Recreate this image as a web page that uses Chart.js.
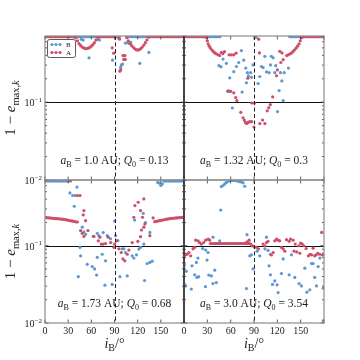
<!DOCTYPE html>
<html>
<head>
<meta charset="utf-8">
<script src="https://cdn.jsdelivr.net/npm/chart.js@4.4.1/dist/chart.umd.min.js"></script>
<style>
    body { margin: 0; background: #fff; }
    #wrap { position: relative; width: 360px; height: 360px; }
    #wrap canvas { position: absolute; left: 0; top: 0; }
</style>
</head>
<body>
<div id="wrap">
    <canvas id="p0" width="360" height="360"></canvas>
    <canvas id="p1" width="360" height="360"></canvas>
    <canvas id="p2" width="360" height="360"></canvas>
    <canvas id="p3" width="360" height="360"></canvas>
</div>
<script>
// --- data: [i_B (deg), 1 - e_max,k] ---
const aBValues = ['1.0', '1.32', '1.73', '3.0'];
const Q0Values = ['0.13', '0.3', '0.68', '3.54'];

const xTicks = [0, 30, 60, 90, 120, 150, 180];
const xTickLabels = [0, 30, 60, 90, 120, 150];
const yMajor = [0.01, 0.1];
const yMinor = [0.02, 0.03, 0.04, 0.05, 0.06, 0.07, 0.08, 0.09, 0.2, 0.3, 0.4, 0.5, 0.6, 0.7];
const yTickLabels = ['−2', '−1'];
const hLine = 0.1;
const vLine = 90;

// a_B = 1.0 AU
const p0_A = [[0,.695],[2,.695],[4,.695],[6,.695],[8,.695],[10,.695],[12,.695],[14,.695],[16,.695],[18,.695],
    [20,.695],[22,.695],[24,.695],[26,.695],[28,.695],[30,.695],[32,.695],[34,.695],[36,.695],[38,.69],
    [40,.676],[42,.617],[44,.569],[46,.537],[48,.513],[50,.501],[52,.49],[54,.49],[56,.495],[58,.507],
    [60,.525],[62,.55],[64,.582],[66,.631],[68,.684],
    [70,.695],[72,.695],[74,.695],[76,.695],[78,.695],[80,.695],[82,.695],[84,.695],[86,.695],[88,.695],
    [87,.501],[89,.427],[95,.676],[96.5,.646],[97,.251],[98,.263],[101,.398],[102,.355],[103.5,.398],[104,.355],
    [106,.676],[108,.617],[110,.569],[112,.537],[114,.513],[116,.49],[118,.473],[120,.468],[122,.473],[124,.49],
    [126,.513],[128,.543],[130,.582],[132,.631],[134,.684],
    [136,.695],[138,.695],[140,.695],[142,.695],[144,.695],[146,.695],[148,.695],[150,.695],[152,.695],[154,.695],
    [156,.695],[158,.695],[160,.695],[162,.695],[164,.695],[166,.695],[168,.695],[170,.695],[172,.695],[174,.695],
    [176,.695],[178,.695],[180,.695]];
const p0_B = [[42,.695],[44,.695],[46,.695],[48,.695],[50,.695],[52,.695],[54,.695],[56,.695],[58,.695],[60,.695],
    [62,.695],[64,.695],[66,.695],[68,.695],[91,.69],
    [106,.695],[108,.695],[110,.695],[112,.695],[114,.695],[116,.695],[118,.695],[120,.695],[122,.695],[124,.695],
    [126,.695],[128,.695],[130,.695],[132,.695],[134,.695],
    [47,.646],[49.5,.631],[57,.372],[69,.646],[70.5,.631],[87.5,.347],[96.5,.676],[98,.282],[99,.302],[100.5,.31],
    [102,.398],[104,.575],[106.5,.582],[109,.569],[111,.589],[122.7,.316],[134.5,.437]];

// a_B = 1.32 AU
const p1_A = [[0,.695],[2,.695],[4,.695],[6,.695],[8,.695],[10,.695],[12,.695],[14,.695],[16,.695],[18,.695],
    [20,.695],[22,.695],[24,.695],[26,.695],[28,.695],
    [29,.676],[30,.617],[31,.562],[32.5,.525],[34,.495],[36,.468],[38,.447],[40,.427],[42,.417],[44,.407],[46,.398],
    [48,.437],[50,.422],[52,.447],[58,.407],[61,.407],[64,.407],[67,.427],
    [57,.14],[60,.138],[64,.132],[66.5,.115],[68,.105],[73,.0741],[76,.0631],[77.5,.0589],[79,.055],[80.5,.0531],
    [82.5,.055],[84.5,.0562],[87,.0562],[90,.0479],[87,.0977],[90.5,.0977],[82,.204],[96,.646],[97,.43],
    [97.5,.0531],[101,.0589],[104,.0531],[107,.0776],[109,.0851],[111,.0933],[114,.117],[119,.219],[120,.26],
    [124.5,.324],[127.5,.352],[123,.452],[126,.43],
    [132,.398],[134,.407],[136,.417],[138,.427],[140,.447],[142,.468],[144,.495],[146,.525],[148,.562],[149.5,.617],
    [151,.676],[152,.695],[154,.695],[156,.695],[158,.695],[160,.695],[162,.695],[164,.695],[166,.695],[168,.695],
    [170,.695],[172,.695],[174,.695],[176,.695],[178,.695],[180,.695]];
const p1_B = [[26,.695],[28,.695],[30,.695],[32,.695],[34,.695],[36,.695],[38,.695],[40,.695],[42,.695],[44,.695],[46,.695],
    [136,.695],[138,.695],[140,.695],[142,.695],[144,.695],[146,.695],[148,.695],[150,.695],[152,.695],[154,.695],
    [45,.295],[47.6,.285],[50.2,.359],[54.5,.316],[58.8,.206],[56,.138],[58,.138],[64,.247],[67.4,.288],[70.4,.324],
    [73.8,.461],[76.8,.347],[79.4,.275],[81.5,.24],[82.8,.219],[85.8,.24],[86.7,.209],[80.3,.178],[88.8,.302],
    [62.2,.0843],[74.7,.135],[95.3,.174],[97.4,.214],[99.6,.288],[101.7,.279],[103.9,.389],[106,.245],[109.4,.24],
    [111.2,.302],[112.4,.389],[114.6,.372],[116.7,.24],[118,.295],[124,.24],[125.8,.188],[128.8,.24],[134.3,.275],
    [127.5,.105],[120.2,.0759],[122.3,.141],[92.7,.68]];

// a_B = 1.73 AU
const p2_A = [[0,.232],[2,.231],[4,.23],[6,.229],[8,.228],[10,.227],[12,.226],[14,.225],[16,.224],[18,.223],
    [20,.222],[22,.221],[24,.219],[26,.218],[28,.216],[30,.214],[32,.212],[34,.21],[36,.208],[38,.206],[40,.204],[42,.203],
    [33,.69],[41.8,.447],[45.3,.447],[50.4,.285],[49.6,.251],[52.6,.211],[46.1,.157],[48.3,.145],[50.4,.132],[55.6,.157],
    [63.4,.132],[69,.116],[71.1,.129],[72.8,.105],[75.4,.105],[78.4,.107],[81.9,.129],[84.9,.11],[89.2,.0955],[90,.105],
    [92.7,.116],[95.7,.0912],[98.7,.0818],[100.9,.0676],[103.4,.0638],[106.5,.0776],[108.6,.0879],[112.9,.11],
    [120.3,.114],[123.7,.131],[125,.16],[129.3,.191],[128,.174],[115,.234],[116.4,.331],[120.7,.366],[123.7,.285],
    [128,.404],[126.3,.234],[135.8,.135],
    [140,.229],[142,.205],[144,.207],[146,.209],[148,.211],[150,.213],[152,.215],[154,.217],[156,.219],[158,.221],
    [160,.223],[162,.225],[164,.226],[166,.227],[168,.228],[170,.229],[172,.23],[174,.231],[176,.232],[178,.233],[180,.234]];
const p2_B = [[0,.69],[2,.69],[4,.69],[6,.69],[8,.69],[10,.69],[12,.69],[14,.69],[16,.69],[18,.69],[20,.69],
    [22,.69],[24,.69],[26,.69],[28,.69],[30,.69],
    [146,.661],[148,.646],[150,.603],[152,.631],[154,.69],[156,.69],[158,.69],[160,.69],[162,.69],[164,.69],[166,.69],
    [168,.69],[170,.69],[172,.69],[174,.69],[176,.69],[178,.69],[180,.69],
    [32.3,.483],[35.8,.447],[38.8,.447],[41.4,.575],[37.9,.324],[48.3,.174],[50.4,.151],[52.6,.141],[62.5,.132],
    [67.7,.145],[69.8,.135],[75.4,.148],[80.6,.135],[84.9,.123],[90.1,.209],[91.4,.135],[94.4,.117],[100,.0912],
    [102.2,.0912],[104.3,.0818],[45.3,.0955],[46.1,.0741],[54.7,.0575],[61.2,.0537],[64.2,.0501],[66.8,.0417],
    [67.7,.0708],[74.1,.0776],[78.4,.0638],[77.6,.0309],[87,.0316],[97,.0398],[106.5,.0407],[112.9,.0741],
    [115.1,.0692],[118.5,.0764],[121.6,.0906],[123.7,.0955],[128,.105],[132.3,.0589],[135.8,.0608],[138.8,.0631],
    [128.9,.0355],[43.1,.0398],[135.8,.149],[116,.215],[127.2,.263],[130.2,.2]];

// a_B = 3.0 AU
const p3_A = [[0,.0741],[2,.0764],[4.3,.078],[6.4,.0818],[8.6,.0741],[11.6,.0912],[13.7,.0955],[15,.118],[18,.116],
    [20,.11],[22.3,.105],[25.3,.11],[27.9,.118],[30.9,.122],[33,.118],
    [34,.107],[36,.107],[38,.107],[40,.107],[42,.107],[44,.107],[46,.107],[48,.107],[50,.107],[52,.107],[54,.107],
    [56,.107],[58,.107],[60,.107],[62,.107],[64,.107],[66,.107],[68,.107],[70,.107],[72,.107],[74,.107],[76,.107],
    [78,.107],[80,.107],[82,.107],[84,.107],
    [79.4,.109],[81.5,.112],[83.7,.118],[85.8,.105],[88,.1],[90,.097],[93,.0955],[95.7,.0912],[101.7,.105],[104,.1],
    [106,.11],[108,.114],[112.4,.0759],[114.6,.0818],[116.7,.116],[119,.122],[121,.118],[123,.116],[125.3,.0955],
    [127.5,.0912],[129.6,.0851],[131.8,.12],[135.2,.114],[136.9,.122],[140.3,.118],[141.5,.0851],[145,.0833],
    [149,.08],[143,.105],[147.5,.1],[150,.108],[152,.105],[154,.1],[157,.092],[160,.0741],[162,.0776],[164,.0764],
    [166,.093],[168,.0741],[170,.0764],[172,.08],[174.5,.0776],[177,.149],[178,.0759]];
const p3_B = [[48,.583],[50.2,.603],[52.4,.631],[54.5,.661],[56.7,.684],[58.8,.695],[61,.7],[63,.7],[65,.7],
    [67.4,.695],[69.5,.684],[71.7,.676],[73.8,.671],[76,.652],[78,.589],
    [47.2,.29],[45.9,.116],[37.3,.129],[30.9,.0818],[27.9,.0879],[29.6,.0652],[18,.0692],[15.9,.0608],[10.3,.055],
    [3,.0468],[13.7,.042],[16.7,.0389],[18.9,.0398],[9.4,.0275],[2.1,.0302],[27.5,.0295],[31.8,.0417],[35.2,.0407],
    [37.3,.0324],[39.5,.0483],[41.6,.0334],[24,.092],[80.3,.0279],[84.5,.0741],[86.7,.0764],[88.8,.0501],[81,.139],
    [94,.0851],[97.4,.0741],[104,.0912],[106,.129],[108,.0871],[111,.0776],[109.4,.055],[111.2,.042],[116.7,.0351],
    [119.7,.0312],[121,.0248],[113.7,.0316],[125.3,.0437],[127.5,.0676],[135.2,.042],[138.2,.0764],[142.5,.0389],
    [148,.0324],[151,.0302],[155.4,.0513],[158,.0251],[161.8,.0269],[164,.0589],[166,.0589],[168,.0389],
    [170.4,.0302],[172.5,.0537],[174.7,.0692],[179,.0107],[179,.0282],[0.5,.0316],[0.5,.0562]];

const BLUE = 'rgb(92,152,212)';
const RED = 'rgb(206,78,104)';
const INK = '#222';
const SERIF = '"Liberation Serif", "DejaVu Serif", serif';
const font = (size, italic) => (italic ? 'italic ' : '') + size + 'px ' + SERIF;

const panels = [
    {A: p0_A, B: p0_B, pad: {left: 45, right: 176, top: 36, bottom: 180}, left: true, bottom: false, legend: true},
    {A: p1_A, B: p1_B, pad: {left: 184, right: 36, top: 36, bottom: 180}, left: false, bottom: false},
    {A: p2_A, B: p2_B, pad: {left: 45, right: 176, top: 180, bottom: 17}, left: true, bottom: true},
    {A: p3_A, B: p3_B, pad: {left: 184, right: 36, top: 180, bottom: 17}, left: false, bottom: true}
];

function richText(ctx, parts, x, y, align) {
    let w = 0;
    parts.forEach(p => { ctx.font = p.f; w += ctx.measureText(p.t).width; });
    let cx = align === 'right' ? x - w : (align === 'center' ? x - w / 2 : x);
    parts.forEach(p => {
        ctx.font = p.f;
        ctx.fillText(p.t, cx, y + (p.dy || 0));
        cx += ctx.measureText(p.t).width;
    });
}

function seg(ctx, x1, y1, x2, y2) {
    ctx.beginPath();
    ctx.moveTo(x1, y1);
    ctx.lineTo(x2, y2);
    ctx.stroke();
}

function decoFor(p, k) {
    return {
        id: 'deco' + k,
        beforeDatasetsDraw(chart) {
            const {ctx, chartArea: a} = chart;
            const y = chart.scales.y;
            ctx.save();
            ctx.strokeStyle = '#111';
            ctx.lineWidth = 1;
            const yh = Math.round(y.getPixelForValue(hLine)) + 0.5;
            seg(ctx, a.left, yh, a.right, yh);
            ctx.restore();
        },
        afterDatasetsDraw(chart) {
            const {ctx, chartArea: a} = chart;
            const x = chart.scales.x, y = chart.scales.y;
            ctx.save();

            // dashed line at 90 deg
            ctx.strokeStyle = '#222';
            ctx.lineWidth = 1;
            ctx.setLineDash([4, 2.5]);
            const xv = Math.round(x.getPixelForValue(vLine)) + 0.5;
            seg(ctx, xv, a.top, xv, a.bottom);
            ctx.setLineDash([]);

            // inward ticks
            ctx.strokeStyle = '#333';
            ctx.lineWidth = 0.8;
            xTicks.forEach(v => {
                const px = x.getPixelForValue(v);
                seg(ctx, px, a.bottom, px, a.bottom - 3.5);
                seg(ctx, px, a.top, px, a.top + 3.5);
            });
            yMajor.forEach(v => {
                const py = y.getPixelForValue(v);
                seg(ctx, a.left, py, a.left + 3.5, py);
                seg(ctx, a.right, py, a.right - 3.5, py);
            });
            yMinor.forEach(v => {
                const py = y.getPixelForValue(v);
                seg(ctx, a.left, py, a.left + 2, py);
                seg(ctx, a.right, py, a.right - 2, py);
            });

            // frame
            ctx.strokeStyle = '#8c8c8c';
            ctx.lineWidth = 1.2;
            ctx.strokeRect(a.left, a.top, a.right - a.left, a.bottom - a.top);
            ctx.strokeStyle = '#111';
            ctx.lineWidth = 1;
            const xm = p.left ? a.right : a.left;
            seg(ctx, xm, a.top, xm, a.bottom);

            ctx.fillStyle = INK;
            ctx.textBaseline = 'alphabetic';

            // y tick labels and title
            if (p.left) {
                yMajor.forEach((v, i) => {
                    const py = y.getPixelForValue(v);
                    richText(ctx, [{t: '10', f: font(10)}, {t: yTickLabels[i], f: font(7), dy: -4.5}], a.left - 3, py + 4, 'right');
                });
                ctx.save();
                ctx.translate(15, (a.top + a.bottom) / 2);
                ctx.rotate(-Math.PI / 2);
                richText(ctx, [{t: '1 − ', f: font(15)}, {t: 'e', f: font(15, true)},
                    {t: 'max,', f: font(10.5), dy: 3.5}, {t: 'k', f: font(10.5, true), dy: 3.5}], 0, 0, 'center');
                ctx.restore();
            }

            // x title
            if (p.bottom) {
                richText(ctx, [{t: 'i', f: font(14, true)}, {t: 'B', f: font(10), dy: 3},
                    {t: '/°', f: font(14)}], (a.left + a.right) / 2, 348, 'center');
            }

            // annotation
            richText(ctx, [
                {t: 'a', f: font(11.5, true)}, {t: 'B', f: font(8), dy: 2.5},
                {t: ' = ' + aBValues[k] + ' AU; ', f: font(11.5)},
                {t: 'Q', f: font(11.5, true)}, {t: '0', f: font(8), dy: 2.5},
                {t: ' = ' + Q0Values[k], f: font(11.5)}
            ], (a.left + a.right) / 2, a.bottom - 16, 'center');

            // legend
            if (p.legend) {
                const lx = a.left + 2, ly = a.top + 3, lw = 28, lh = 18;
                ctx.fillStyle = 'rgba(255,255,255,0.85)';
                ctx.strokeStyle = '#333';
                ctx.lineWidth = 0.8;
                ctx.beginPath();
                ctx.roundRect(lx + 0.5, ly + 0.5, lw, lh, 2);
                ctx.fill();
                ctx.stroke();
                chart.data.datasets.forEach((ds, i) => {
                    const ry = ly + 5.5 + i * 8;
                    ctx.fillStyle = ds.backgroundColor;
                    [5, 9, 13].forEach(dx => {
                        ctx.beginPath();
                        ctx.arc(lx + dx, ry, 1.6, 0, Math.PI * 2);
                        ctx.fill();
                    });
                    ctx.fillStyle = INK;
                    ctx.font = font(7);
                    ctx.fillText(ds.label, lx + 19, ry + 2.5);
                });
            }
            ctx.restore();
        }
    };
}

panels.forEach((p, k) => {
    new Chart(document.getElementById('p' + k), {
        type: 'scatter',
        data: {
            datasets: [
                {label: 'B', data: p.B.map(d => ({x: d[0], y: d[1]})), backgroundColor: BLUE, order: 2},
                {label: 'A', data: p.A.map(d => ({x: d[0], y: d[1]})), backgroundColor: RED, order: 1}
            ]
        },
        options: {
            responsive: false,
            animation: false,
            events: [],
            layout: {padding: p.pad},
            elements: {point: {radius: 1.6, borderWidth: 0, hoverRadius: 1.6}},
            scales: {
                x: {
                    type: 'linear', min: 0, max: 180,
                    display: p.bottom,
                    grid: {display: false, drawTicks: false},
                    border: {display: false},
                    afterBuildTicks: s => { s.ticks = xTickLabels.map(v => ({value: v})); },
                    afterFit: s => { s.height = p.bottom ? 20 : 0; },
                    ticks: {
                        color: INK, padding: 2, maxRotation: 0, autoSkip: false,
                        font: {family: SERIF, size: 10},
                        callback: v => String(v)
                    }
                },
                y: {type: 'logarithmic', min: 0.01, max: 0.71, display: false}
            },
            plugins: {legend: {display: false}, tooltip: {enabled: false}}
        },
        plugins: [decoFor(p, k)]
    });
});
</script>
</body>
</html>
